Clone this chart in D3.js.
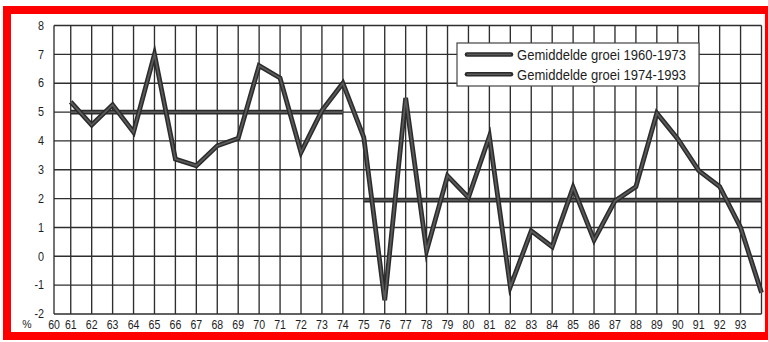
<!DOCTYPE html>
<html>
<head>
<meta charset="utf-8">
<script src="https://cdn.jsdelivr.net/npm/d3@7"></script>
<style>
  html, body { margin: 0; padding: 0; background: #fff; }
  svg { display: block; }
  text { font-family: "Liberation Sans", Arial, Helvetica, sans-serif; fill: #1e1e1e; }
</style>
</head>
<body>
<svg id="chart" width="768" height="342"></svg>
<script>
// Annual economic growth (%), 1961-1994
const years = [61, 62, 63, 64, 65, 66, 67, 68, 69, 70, 71, 72, 73, 74, 75, 76, 77,
               78, 79, 80, 81, 82, 83, 84, 85, 86, 87, 88, 89, 90, 91, 92, 93, 94];
const growth = [5.35, 4.55, 5.25, 4.3, 7.0, 3.37, 3.14, 3.83, 4.09, 6.61, 6.18, 3.6, 5.05, 6.0,
                4.12, -1.52, 5.49, 0.19, 2.79, 2.04, 4.15, -1.06, 0.88, 0.33, 2.39, 0.56,
                1.92, 2.41, 4.96, 4.07, 2.97, 2.42, 1.0, -1.26];

// Period averages
const avgLabels = ["Gemiddelde groei 1960-1973", "Gemiddelde groei 1974-1993"];
const avgFrom = [61, 75];
const avgTo = [74, 94];
const avgValues = [5.0, 1.95];

// Axis ticks
const xTickLabels = ["60", "61", "62", "63", "64", "65", "66", "67", "68", "69", "70", "71", "72",
                     "73", "74", "75", "76", "77", "78", "79", "80", "81", "82", "83", "84", "85",
                     "86", "87", "88", "89", "90", "91", "92", "93"];
const yTicks = [-2, -1, 0, 1, 2, 3, 4, 5, 6, 7, 8];

const svg = d3.select("#chart");

// red frame around the panel
svg.append("rect").attr("x", 3).attr("y", 6).attr("width", 765).attr("height", 334).attr("fill", "#ff0000");
svg.append("rect").attr("x", 11).attr("y", 14).attr("width", 754).attr("height", 318).attr("fill", "#ffffff");

const x = d3.scaleLinear().domain([60.2, 94]).range([54, 761.5]);
const y = d3.scaleLinear().domain([-2, 8]).range([314, 25.5]);

const grid = svg.append("g").attr("stroke", "#2e2e2e").attr("stroke-width", 1.35).attr("fill", "none");

// horizontal grid lines
grid.selectAll("line.h").data(yTicks).join("line")
  .attr("class", "h")
  .attr("x1", x(60.2)).attr("x2", x(94))
  .attr("y1", d => y(d)).attr("y2", d => y(d));

// vertical grid lines: plot edges plus one per year
const vLines = [60.2].concat(years);
grid.selectAll("line.v").data(vLines).join("line")
  .attr("class", "v")
  .attr("x1", d => x(d)).attr("x2", d => x(d))
  .attr("y1", y(8)).attr("y2", y(-2));

// y axis labels
svg.append("g").selectAll("text").data(yTicks).join("text")
  .attr("transform", d => `translate(44,${y(d)}) scale(0.9,1)`)
  .attr("dy", "0.35em")
  .attr("text-anchor", "end").attr("font-size", 12)
  .text(d => d);

// x axis labels: first one sits on the left edge
svg.append("g").selectAll("text").data(xTickLabels).join("text")
  .attr("transform", (d, i) => `translate(${i === 0 ? x(60.2) : x(+d)},${324.5}) scale(0.88,1)`)
  .attr("dy", "0.35em").attr("text-anchor", "middle").attr("font-size", 12)
  .text(d => d);

svg.append("text").attr("x", 27).attr("y", 324.5).attr("dy", "0.35em")
  .attr("text-anchor", "middle").attr("font-size", 10.5).text("%");

// thick double-tone stroke used for every series line
function thickLine(sel, dFn) {
  sel.append("path").attr("d", dFn).attr("fill", "none")
    .attr("stroke", "#2b2b2b").attr("stroke-width", 4.8)
    .attr("stroke-linejoin", "miter").attr("stroke-miterlimit", 6);
  sel.append("path").attr("d", dFn).attr("fill", "none")
    .attr("stroke", "#5a5a5a").attr("stroke-width", 1.8)
    .attr("stroke-linejoin", "miter").attr("stroke-miterlimit", 6);
}

const line = d3.line().x(d => x(d[0])).y(d => y(d[1]));

// period average lines
avgValues.forEach((v, i) => {
  const g = svg.append("g");
  thickLine(g, line([[avgFrom[i], v], [avgTo[i], v]]));
});

// growth series
thickLine(svg.append("g"), line(years.map((yr, i) => [yr, growth[i]])));

// legend
const lg = svg.append("g");
lg.append("rect").attr("x", 457).attr("y", 43).attr("width", 242).attr("height", 43)
  .attr("fill", "#fff").attr("stroke", "#444").attr("stroke-width", 1.2);
avgLabels.forEach((lab, i) => {
  const ly = 54.5 + i * 19.7;
  const row = lg.append("g");
  row.append("line").attr("x1", 467).attr("x2", 511).attr("y1", ly).attr("y2", ly)
    .attr("stroke", "#2b2b2b").attr("stroke-width", 4.6).attr("stroke-linecap", "round");
  row.append("line").attr("x1", 467).attr("x2", 511).attr("y1", ly).attr("y2", ly)
    .attr("stroke", "#5a5a5a").attr("stroke-width", 1.6);
  row.append("text").attr("transform", `translate(517,${ly}) scale(0.87,1)`).attr("dy", "0.36em")
    .attr("font-size", 15).text(lab);
});
</script>
</body>
</html>
